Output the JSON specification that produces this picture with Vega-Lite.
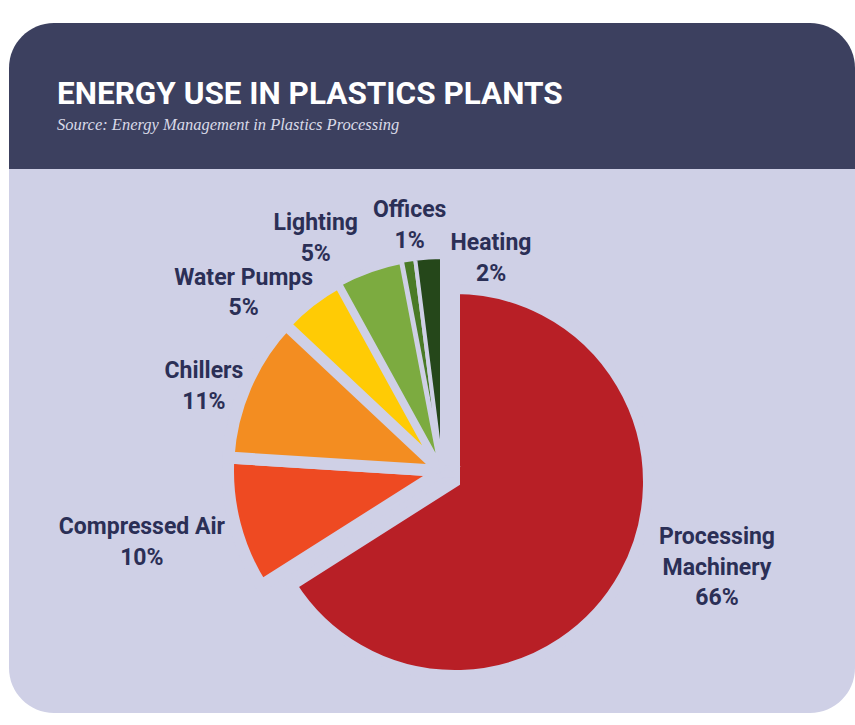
{
  "$schema": "https://vega.github.io/schema/vega-lite/v6.json",
  "background": "#ffffff",
  "padding": {"left": 9, "top": 23, "right": 0, "bottom": 12},
  "spacing": 0,
  "bounds": "flush",
  "config": {"view": {"stroke": null}, "concat": {"spacing": 0}},
  "datasets": {
    "energy": [
      {"category": "Processing Machinery", "share": 66, "idx": 1, "label": "Processing\nMachinery\n66%"},
      {"category": "Compressed Air", "share": 10, "idx": 2, "label": "Compressed Air\n10%"},
      {"category": "Chillers", "share": 11, "idx": 3, "label": "Chillers\n11%"},
      {"category": "Water Pumps", "share": 5, "idx": 4, "label": "Water Pumps\n5%"},
      {"category": "Lighting", "share": 5, "idx": 5, "label": "Lighting\n5%"},
      {"category": "Offices", "share": 1, "idx": 6, "label": "Offices\n1%"},
      {"category": "Heating", "share": 2, "idx": 7, "label": "Heating\n2%"}
    ],
    "panel": [{"part": "panel"}]
  },
  "vconcat": [
    {
      "width": 846,
      "height": 146,
      "data": {"name": "panel"},
      "mark": {"type": "rect", "fill": "#3c405f", "cornerRadiusTopLeft": 45, "cornerRadiusTopRight": 45},
      "title": {
        "text": "ENERGY USE IN PLASTICS PLANTS",
        "subtitle": "Source: Energy Management in Plastics Processing",
        "anchor": "start",
        "frame": "group",
        "orient": "top",
        "offset": -110,
        "dx": 48,
        "font": "Roboto, sans-serif",
        "fontSize": 31.5,
        "fontWeight": "bold",
        "color": "#ffffff",
        "subtitleFont": "Liberation Serif, serif",
        "subtitleFontStyle": "italic",
        "subtitleFontSize": 16.5,
        "subtitleColor": "#d9dae8",
        "subtitlePadding": 6
      }
    },
    {
      "width": 846,
      "height": 544,
      "layer": [
        {
          "data": {"name": "panel"},
          "mark": {"type": "rect", "fill": "#cfd0e6", "cornerRadiusBottomLeft": 45, "cornerRadiusBottomRight": 45}
        },
        {
          "data": {"name": "energy"},
          "mark": {"type": "arc", "outerRadius": 193, "stroke": "#cfd0e6", "strokeWidth": 10, "strokeJoin": "miter", "xOffset": 23, "yOffset": 41},
          "encoding": {
            "theta": {"field": "share", "type": "quantitative", "stack": true},
            "order": {"field": "idx", "type": "quantitative", "sort": "ascending"},
            "color": {"field": "category", "type": "nominal", "legend": null,
              "scale": {"domain": ["Processing Machinery", "Compressed Air", "Chillers", "Water Pumps", "Lighting", "Offices", "Heating"],
                        "range": ["#b81f26", "#ee4a22", "#f38d21", "#ffcb05", "#7cab40", "#4a7a26", "#25471a"]}},
            "opacity": {"condition": {"test": "datum.category === 'Processing Machinery'", "value": 1}, "value": 0}
          }
        },
        {
          "data": {"name": "energy"},
          "mark": {"type": "arc", "outerRadius": 214, "stroke": "#cfd0e6", "strokeJoin": "miter", "xOffset": 10, "yOffset": 30},
          "encoding": {
            "theta": {"field": "share", "type": "quantitative", "stack": true},
            "order": {"field": "idx", "type": "quantitative", "sort": "ascending"},
            "color": {"field": "category", "type": "nominal", "legend": null},
            "strokeWidth": {"field": "category", "type": "nominal", "legend": null,
              "scale": {"type": "ordinal",
                        "domain": ["Processing Machinery", "Compressed Air", "Chillers", "Water Pumps", "Lighting", "Offices", "Heating"],
                        "range": [10, 12, 12, 10, 6, 4, 4]}},
            "opacity": {"condition": {"test": "datum.category !== 'Processing Machinery'", "value": 1}, "value": 0}
          }
        },
        {
          "data": {"name": "energy"},
          "mark": {"type": "text", "radius": 270.5, "thetaOffset": -0.2827, "xOffset": 21, "yOffset": 37, "font": "Roboto, sans-serif", "fontSize": 23, "fontWeight": "bold", "fill": "#2b2f56", "align": "center", "baseline": "middle", "lineBreak": "\n", "lineHeight": 30.5},
          "encoding": {
            "theta": {"field": "share", "type": "quantitative", "stack": true},
            "order": {"field": "idx", "type": "quantitative", "sort": "ascending"},
            "detail": {"field": "category", "type": "nominal"},
            "text": {"condition": {"test": "datum.category === 'Processing Machinery'", "field": "label"}, "value": ""}
          }
        },
        {
          "data": {"name": "energy"},
          "mark": {"type": "text", "radius": 289.5, "thetaOffset": -0.1484, "xOffset": 21, "yOffset": 37, "font": "Roboto, sans-serif", "fontSize": 23, "fontWeight": "bold", "fill": "#2b2f56", "align": "center", "baseline": "middle", "lineBreak": "\n", "lineHeight": 30.5},
          "encoding": {
            "theta": {"field": "share", "type": "quantitative", "stack": true},
            "order": {"field": "idx", "type": "quantitative", "sort": "ascending"},
            "detail": {"field": "category", "type": "nominal"},
            "text": {"condition": {"test": "datum.category === 'Water Pumps' || datum.category === 'Lighting'", "field": "label"}, "value": ""}
          }
        },
        {
          "data": {"name": "energy"},
          "mark": {"type": "text", "radius": 271, "thetaOffset": -0.0035, "xOffset": 21, "yOffset": 37, "font": "Roboto, sans-serif", "fontSize": 23, "fontWeight": "bold", "fill": "#2b2f56", "align": "center", "baseline": "middle", "lineBreak": "\n", "lineHeight": 30.5},
          "encoding": {
            "theta": {"field": "share", "type": "quantitative", "stack": true},
            "order": {"field": "idx", "type": "quantitative", "sort": "ascending"},
            "detail": {"field": "category", "type": "nominal"},
            "text": {"condition": {"test": "datum.category === 'Chillers' || datum.category === 'Offices'", "field": "label"}, "value": ""}
          }
        },
        {
          "data": {"name": "energy"},
          "mark": {"type": "text", "radius": 315, "thetaOffset": 0.0942, "xOffset": 21, "yOffset": 37, "font": "Roboto, sans-serif", "fontSize": 23, "fontWeight": "bold", "fill": "#2b2f56", "align": "center", "baseline": "middle", "lineBreak": "\n", "lineHeight": 30.5},
          "encoding": {
            "theta": {"field": "share", "type": "quantitative", "stack": true},
            "order": {"field": "idx", "type": "quantitative", "sort": "ascending"},
            "detail": {"field": "category", "type": "nominal"},
            "text": {"condition": {"test": "datum.category === 'Compressed Air'", "field": "label"}, "value": ""}
          }
        },
        {
          "data": {"name": "energy"},
          "mark": {"type": "text", "radius": 238, "thetaOffset": 0.2234, "xOffset": 21, "yOffset": 37, "font": "Roboto, sans-serif", "fontSize": 23, "fontWeight": "bold", "fill": "#2b2f56", "align": "center", "baseline": "middle", "lineBreak": "\n", "lineHeight": 30.5},
          "encoding": {
            "theta": {"field": "share", "type": "quantitative", "stack": true},
            "order": {"field": "idx", "type": "quantitative", "sort": "ascending"},
            "detail": {"field": "category", "type": "nominal"},
            "text": {"condition": {"test": "datum.category === 'Heating'", "field": "label"}, "value": ""}
          }
        }
      ]
    }
  ]
}
